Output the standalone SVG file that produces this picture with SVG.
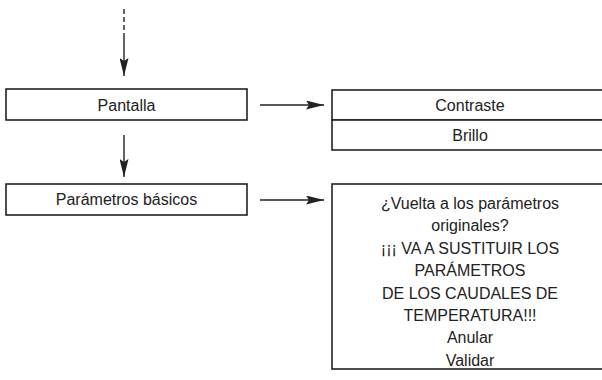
<svg xmlns="http://www.w3.org/2000/svg" width="602" height="380" viewBox="0 0 602 380">
<style>
.box{fill:#fff;stroke:#222;stroke-width:1.6}
.t{font-family:"Liberation Sans",Arial,sans-serif;font-size:16px;fill:#222;text-anchor:middle}
.ln{stroke:#222;stroke-width:1.4;fill:none}
</style>
<defs>
<marker id="ah" markerUnits="userSpaceOnUse" markerWidth="18" markerHeight="9" refX="18" refY="4.5" orient="auto">
<path d="M0,0 L18,4.5 L0,9 L3,4.5 Z" fill="#222"/>
</marker>
</defs>
<rect width="602" height="380" fill="#fff"/>
<g id="connectors">
<line class="ln" x1="124" y1="9" x2="124" y2="35" stroke-dasharray="5,3"/>
<line class="ln" x1="124" y1="35" x2="124" y2="76" marker-end="url(#ah)"/>
<line class="ln" x1="124" y1="135" x2="124" y2="177" marker-end="url(#ah)"/>
<line class="ln" x1="260" y1="105" x2="324" y2="105" marker-end="url(#ah)"/>
<line class="ln" x1="260" y1="200" x2="324" y2="200" marker-end="url(#ah)"/>
</g>
<g id="pantalla">
<rect class="box" x="6" y="89" width="241" height="31"/>
<text class="t" x="126.5" y="111">Pantalla</text>
</g>
<g id="parametros">
<rect class="box" x="6" y="184" width="241" height="31"/>
<text class="t" x="126.5" y="205">Parámetros básicos</text>
</g>
<g id="contraste">
<rect class="box" x="332" y="90" width="280" height="30"/>
<text class="t" x="470" y="111">Contraste</text>
</g>
<g id="brillo">
<rect class="box" x="332" y="120" width="280" height="30"/>
<text class="t" x="470" y="141">Brillo</text>
</g>
<g id="dialogo">
<rect class="box" x="332" y="184" width="280" height="185"/>
<text class="t" x="470" y="209">¿Vuelta a los parámetros</text>
<text class="t" x="470" y="231.4">originales?</text>
<text class="t" x="470" y="253.8">¡¡¡ VA A SUSTITUIR LOS</text>
<text class="t" x="470" y="276.2">PARÁMETROS</text>
<text class="t" x="470" y="298.6">DE LOS CAUDALES DE</text>
<text class="t" x="470" y="321">TEMPERATURA!!!</text>
<text class="t" x="470" y="343.4">Anular</text>
<text class="t" x="470" y="365.8">Validar</text>
</g>
</svg>
